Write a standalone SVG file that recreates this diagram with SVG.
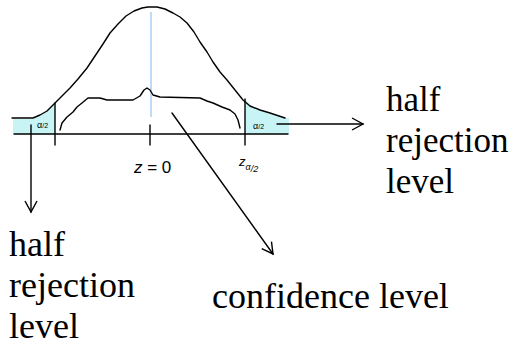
<svg xmlns="http://www.w3.org/2000/svg" width="514" height="345" viewBox="0 0 514 345">
<style>
.ln{fill:none;stroke:#000;stroke-width:1.4;stroke-linejoin:round;stroke-linecap:round}
.fill{fill:#c8f4f6;stroke:none}
.big{font-family:'Liberation Serif','Times New Roman','DejaVu Serif',Times,serif;fill:#000}
.sm{font-family:'Liberation Sans',Arial,sans-serif;fill:#000}
</style>
<defs>
<marker id="ah" markerWidth="14" markerHeight="14" refX="12" refY="7" orient="auto" markerUnits="userSpaceOnUse">
<path d="M1,1 L12,7 L1,13" fill="none" stroke="#000" stroke-width="1.4"/>
</marker>
</defs>
<rect width="514" height="345" fill="#fff"/>
<g id="tails">
<path class="fill" d="M13,119 L33,119 L40,115 L47,111 L55,103 L55,134 L13,134 Z"/>
<path class="fill" d="M245,99 L250,105 L260,110 L270,113 L285,118 L289,118 L289,134 L245,134 Z"/>
</g>
<g id="curve">
<polyline class="ln" points="12,118 33,118 40,115 47,111 55,103 62,96 70,88 78,79 87,68 95,56 103,44 110,33 118,24 126,16 134,11 142,8 148,7 157,7 165,9 173,13 180,17 187,23 194,32 200,42 207,52 213,62 220,72 227,80 235,90 243,100 250,106 260,110 270,113 285,118"/>
<line x1="151" y1="12" x2="151" y2="117" stroke="#a8d0f4" stroke-width="1.5"/>
<polyline class="ln" points="60,130 62,123 67,117 73,112 77,107 82,103 88,98 100,98 107,100 125,100 133,100 140,96 144,90 147,88 150,90 153,95 160,97 200,98 207,101 213,103 222,107 230,110 235,114 238,120 240,128"/>
</g>
<g id="axis">
<line class="ln" x1="14" y1="134" x2="288" y2="134"/>
<line class="ln" x1="55" y1="103" x2="55" y2="145"/>
<line class="ln" x1="150" y1="125" x2="150" y2="145"/>
<line class="ln" x1="245" y1="99" x2="245" y2="145"/>
</g>
<g id="connectors">
<line class="ln" x1="31" y1="125" x2="31" y2="212" marker-end="url(#ah)"/>
<line class="ln" x1="277" y1="124" x2="363" y2="124" marker-end="url(#ah)"/>
<line class="ln" x1="172" y1="113" x2="273" y2="254" marker-end="url(#ah)"/>
</g>
<g id="axis-labels">
<text class="sm" x="134" y="173" font-size="17"><tspan font-style="italic">z</tspan> = 0</text>
<text class="sm" x="239" y="166" font-size="13" font-style="italic">z<tspan font-size="9" dy="4">α</tspan><tspan font-size="9" dy="2">/2</tspan></text>
<text class="sm" x="37" y="128" font-size="9">α<tspan font-size="7">/2</tspan></text>
<text class="sm" x="253" y="129" font-size="9">α<tspan font-size="7">/2</tspan></text>
</g>
<g id="label-right" class="big" font-size="35">
<text x="386" y="111">half</text>
<text x="386" y="152">rejection</text>
<text x="386" y="193">level</text>
</g>
<g id="label-left" class="big" font-size="36">
<text x="9" y="256">half</text>
<text x="9" y="297">rejection</text>
<text x="9" y="338">level</text>
</g>
<g id="label-confidence" class="big" font-size="36">
<text x="212" y="308">confidence level</text>
</g>
</svg>
